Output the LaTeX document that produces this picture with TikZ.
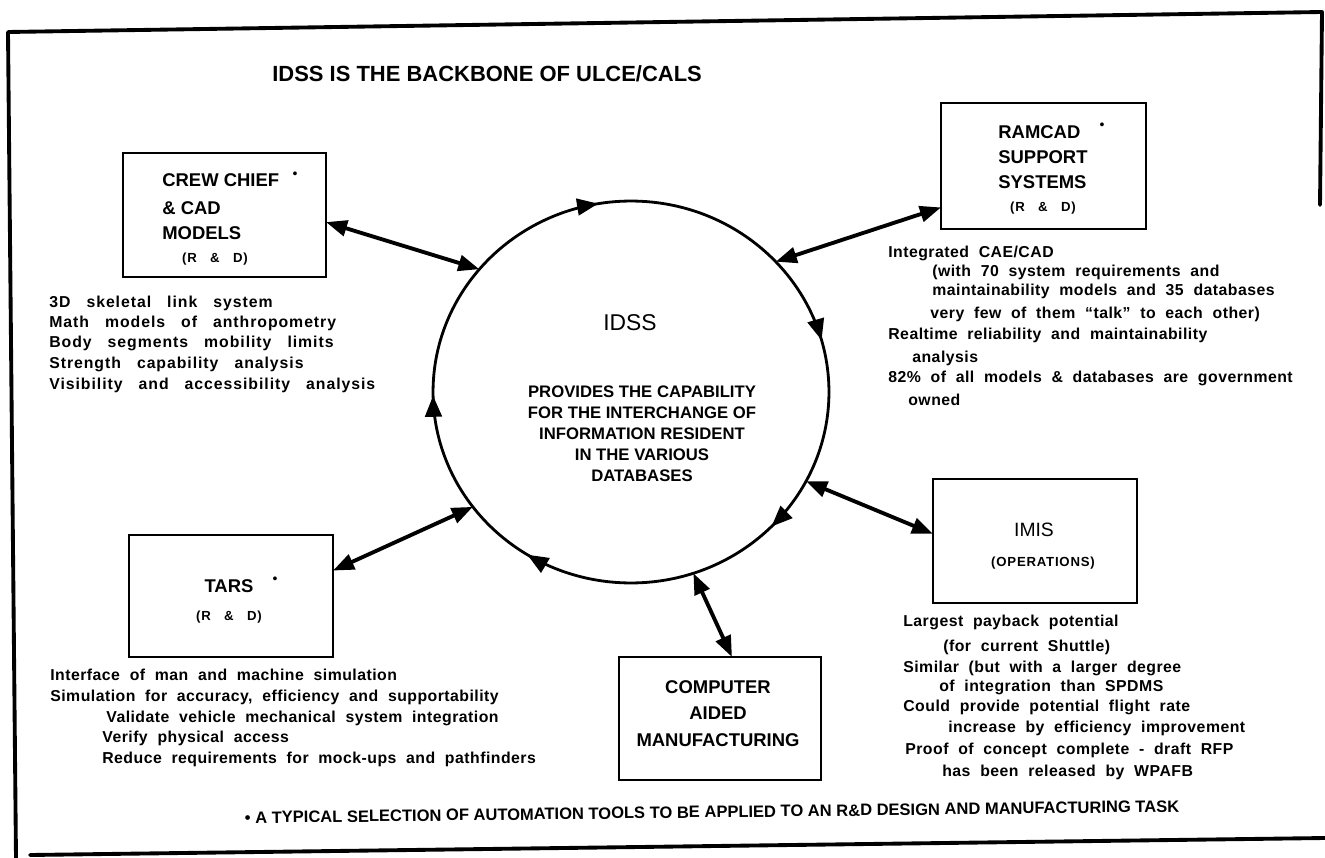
\documentclass[tikz,border=0pt]{standalone}
\usepackage{fontspec}
\setmainfont{Liberation Sans}
\newfontfamily\widefont[LetterSpace=3,WordSpace=2]{Liberation Sans}
\newfontfamily\widerfont[LetterSpace=6,WordSpace=3]{Liberation Sans}
\usetikzlibrary{arrows.meta,decorations.markings,shapes.geometric}
\begin{document}
\begin{tikzpicture}[x=0.02cm,y=-0.02cm,
 box/.style={draw,line width=1.5pt,rectangle,inner sep=0pt,outer sep=0pt},
 boxtxt/.style={font=\fontsize{10.5}{12}\selectfont\bfseries,inner sep=0pt},
 small/.style={font=\widerfont\fontsize{7.5}{9}\selectfont\bfseries,inner sep=0pt},
 item/.style={font=\widefont\fontsize{9}{10}\selectfont\bfseries,inner sep=0pt,anchor=base west},
 witem/.style={font=\widerfont\fontsize{9}{10}\selectfont\bfseries,inner sep=0pt,anchor=base west},
 dotmark/.style={font=\fontsize{8}{8}\selectfont,inner sep=0pt},
 link/.style={line width=2.2pt,{Triangle[length=12pt,width=9pt]}-{Triangle[length=12pt,width=9pt]}},
 frame/.style={line width=2.2pt,line cap=round,line join=round},
 ring/.style={line width=1.6pt,postaction=decorate,decoration={markings,
   mark=at position 0.043 with {\arrowreversed{Triangle[length=12pt,width=9.5pt]}},
   mark=at position 0.277 with {\arrowreversed{Triangle[length=12pt,width=9.5pt]}},
   mark=at position 0.503 with {\arrowreversed{Triangle[length=12pt,width=9.5pt]}},
   mark=at position 0.661 with {\arrowreversed{Triangle[length=12pt,width=9.5pt]}},
   mark=at position 0.877 with {\arrowreversed{Triangle[length=12pt,width=9.5pt]}}}}]
\useasboundingbox (0,0) rectangle (1325,858);

% frame
\draw[frame] (1320,205) -- (1322,12) -- (8,32) -- (16,858);
\draw[frame] (30,855) -- (1325,838);

% title
\node[font=\fontsize{12.5}{14}\selectfont\bfseries,inner sep=0pt,anchor=base west] (title) at (272,82) {IDSS IS THE BACKBONE OF ULCE/CALS};

% central circle
\node[ellipse,minimum width=7.92cm,minimum height=7.64cm,inner sep=0pt,outer sep=0pt] (idss) at (631,392) {};
\draw[ring] (idss.center) ellipse [x radius=3.96cm, y radius=3.82cm];
\node[font=\fontsize{13}{15}\selectfont,inner sep=0pt] (idsst) at (630,323) {IDSS};
\node[font=\fontsize{9.5}{12}\selectfont\bfseries,align=center,inner sep=0pt] (prov) at (642,434)
  {PROVIDES THE CAPABILITY\\FOR THE INTERCHANGE OF\\INFORMATION RESIDENT\\IN THE VARIOUS\\DATABASES};

% CREW CHIEF
\node[box,minimum width=4.06cm,minimum height=2.48cm] (cc) at (224.5,215) {};
\node[boxtxt,anchor=west] (cc1) at (162,180) {CREW CHIEF};
\node[dotmark] (ccs) at (295,175) {•};
\node[boxtxt,anchor=west] (cc2) at (162,208) {\& CAD};
\node[boxtxt,anchor=west] (cc3) at (162,233) {MODELS};
\node[small] (cc4) at (215,259) {(R \& D)};
\node[witem] (cl1) at (49,307) {3D skeletal link system};
\node[witem] (cl2) at (49,327) {Math models of anthropometry};
\node[witem] (cl3) at (49,347) {Body segments mobility limits};
\node[witem] (cl4) at (49,368) {Strength capability analysis};
\node[witem] (cl5) at (49,389) {Visibility and accessibility analysis};

% RAMCAD
\node[box,minimum width=4.1cm,minimum height=2.52cm] (rc) at (1043.5,166) {};
\node[boxtxt,anchor=west] (rc1) at (998,132) {RAMCAD};
\node[dotmark] (rcs) at (1102,126) {•};
\node[boxtxt,anchor=west] (rc2) at (998,157) {SUPPORT};
\node[boxtxt,anchor=west] (rc3) at (998,182) {SYSTEMS};
\node[small] (rc4) at (1043,208) {(R \& D)};
\node[item] (rl1) at (888,257) {Integrated CAE/CAD};
\node[item] (rl2) at (932,276) {(with 70 system requirements and};
\node[item] (rl3) at (932,296) {maintainability models and 35 databases};
\node[item] (rl4) at (930,318) {very few of them “talk” to each other)};
\node[item] (rl5) at (888,339) {Realtime reliability and maintainability};
\node[item] (rl6) at (912,362) {analysis};
\node[item] (rl7) at (888,382) {82\% of all models \& databases are government};
\node[item] (rl8) at (908,405) {owned};

% IMIS
\node[box,minimum width=4.08cm,minimum height=2.48cm] (im) at (1035,541) {};
\node[font=\fontsize{11}{13}\selectfont,inner sep=0pt] (im1) at (1034,530) {IMIS};
\node[small] (im2) at (1043,563) {(OPERATIONS)};
\node[item] (il1) at (903,626) {Largest payback potential};
\node[item] (il2) at (943,651) {(for current Shuttle)};
\node[item] (il3) at (903,672) {Similar (but with a larger degree};
\node[item] (il4) at (939,691) {of integration than SPDMS};
\node[item] (il5) at (903,711) {Could provide potential flight rate};
\node[item] (il6) at (948,732) {increase by efficiency improvement};
\node[item] (il7) at (905,754) {Proof of concept complete - draft RFP};
\node[item] (il8) at (942,776) {has been released by WPAFB};

% CAM
\node[box,minimum width=4.04cm,minimum height=2.46cm] (cam) at (720,718.5) {};
\node[boxtxt] (cam1) at (718,687) {COMPUTER};
\node[boxtxt] (cam2) at (718,713) {AIDED};
\node[boxtxt] (cam3) at (718,740) {MANUFACTURING};

% TARS
\node[box,minimum width=4.08cm,minimum height=2.44cm] (ta) at (231,596) {};
\node[boxtxt] (ta1) at (229,586) {TARS};
\node[dotmark] (tas) at (275,580) {•};
\node[small] (ta2) at (229,617) {(R \& D)};
\node[item] (tl1) at (50,680) {Interface of man and machine simulation};
\node[item] (tl2) at (50,701) {Simulation for accuracy, efficiency and supportability};
\node[item] (tl3) at (106,722) {Validate vehicle mechanical system integration};
\node[item] (tl4) at (102,742) {Verify physical access};
\node[item] (tl5) at (102,763) {Reduce requirements for mock-ups and pathfinders};

% connectors
\draw[link] (cc.-4) -- (idss.141.4);
\draw[link] (rc.202) -- (idss.42.8);
\draw[link] (im.176.6) -- (idss.-27.7);
\draw[link] (cam.79) -- (idss.-71.6);
\draw[link] (ta.14.3) -- (idss.216.2);

% footnote
\node[font=\fontsize{9.4}{11}\selectfont\bfseries,inner sep=0pt,rotate=0.7] (foot) at (712,812)
  {• A TYPICAL SELECTION OF AUTOMATION TOOLS TO BE APPLIED TO AN R\&D DESIGN AND MANUFACTURING TASK};
\end{tikzpicture}
\end{document}
